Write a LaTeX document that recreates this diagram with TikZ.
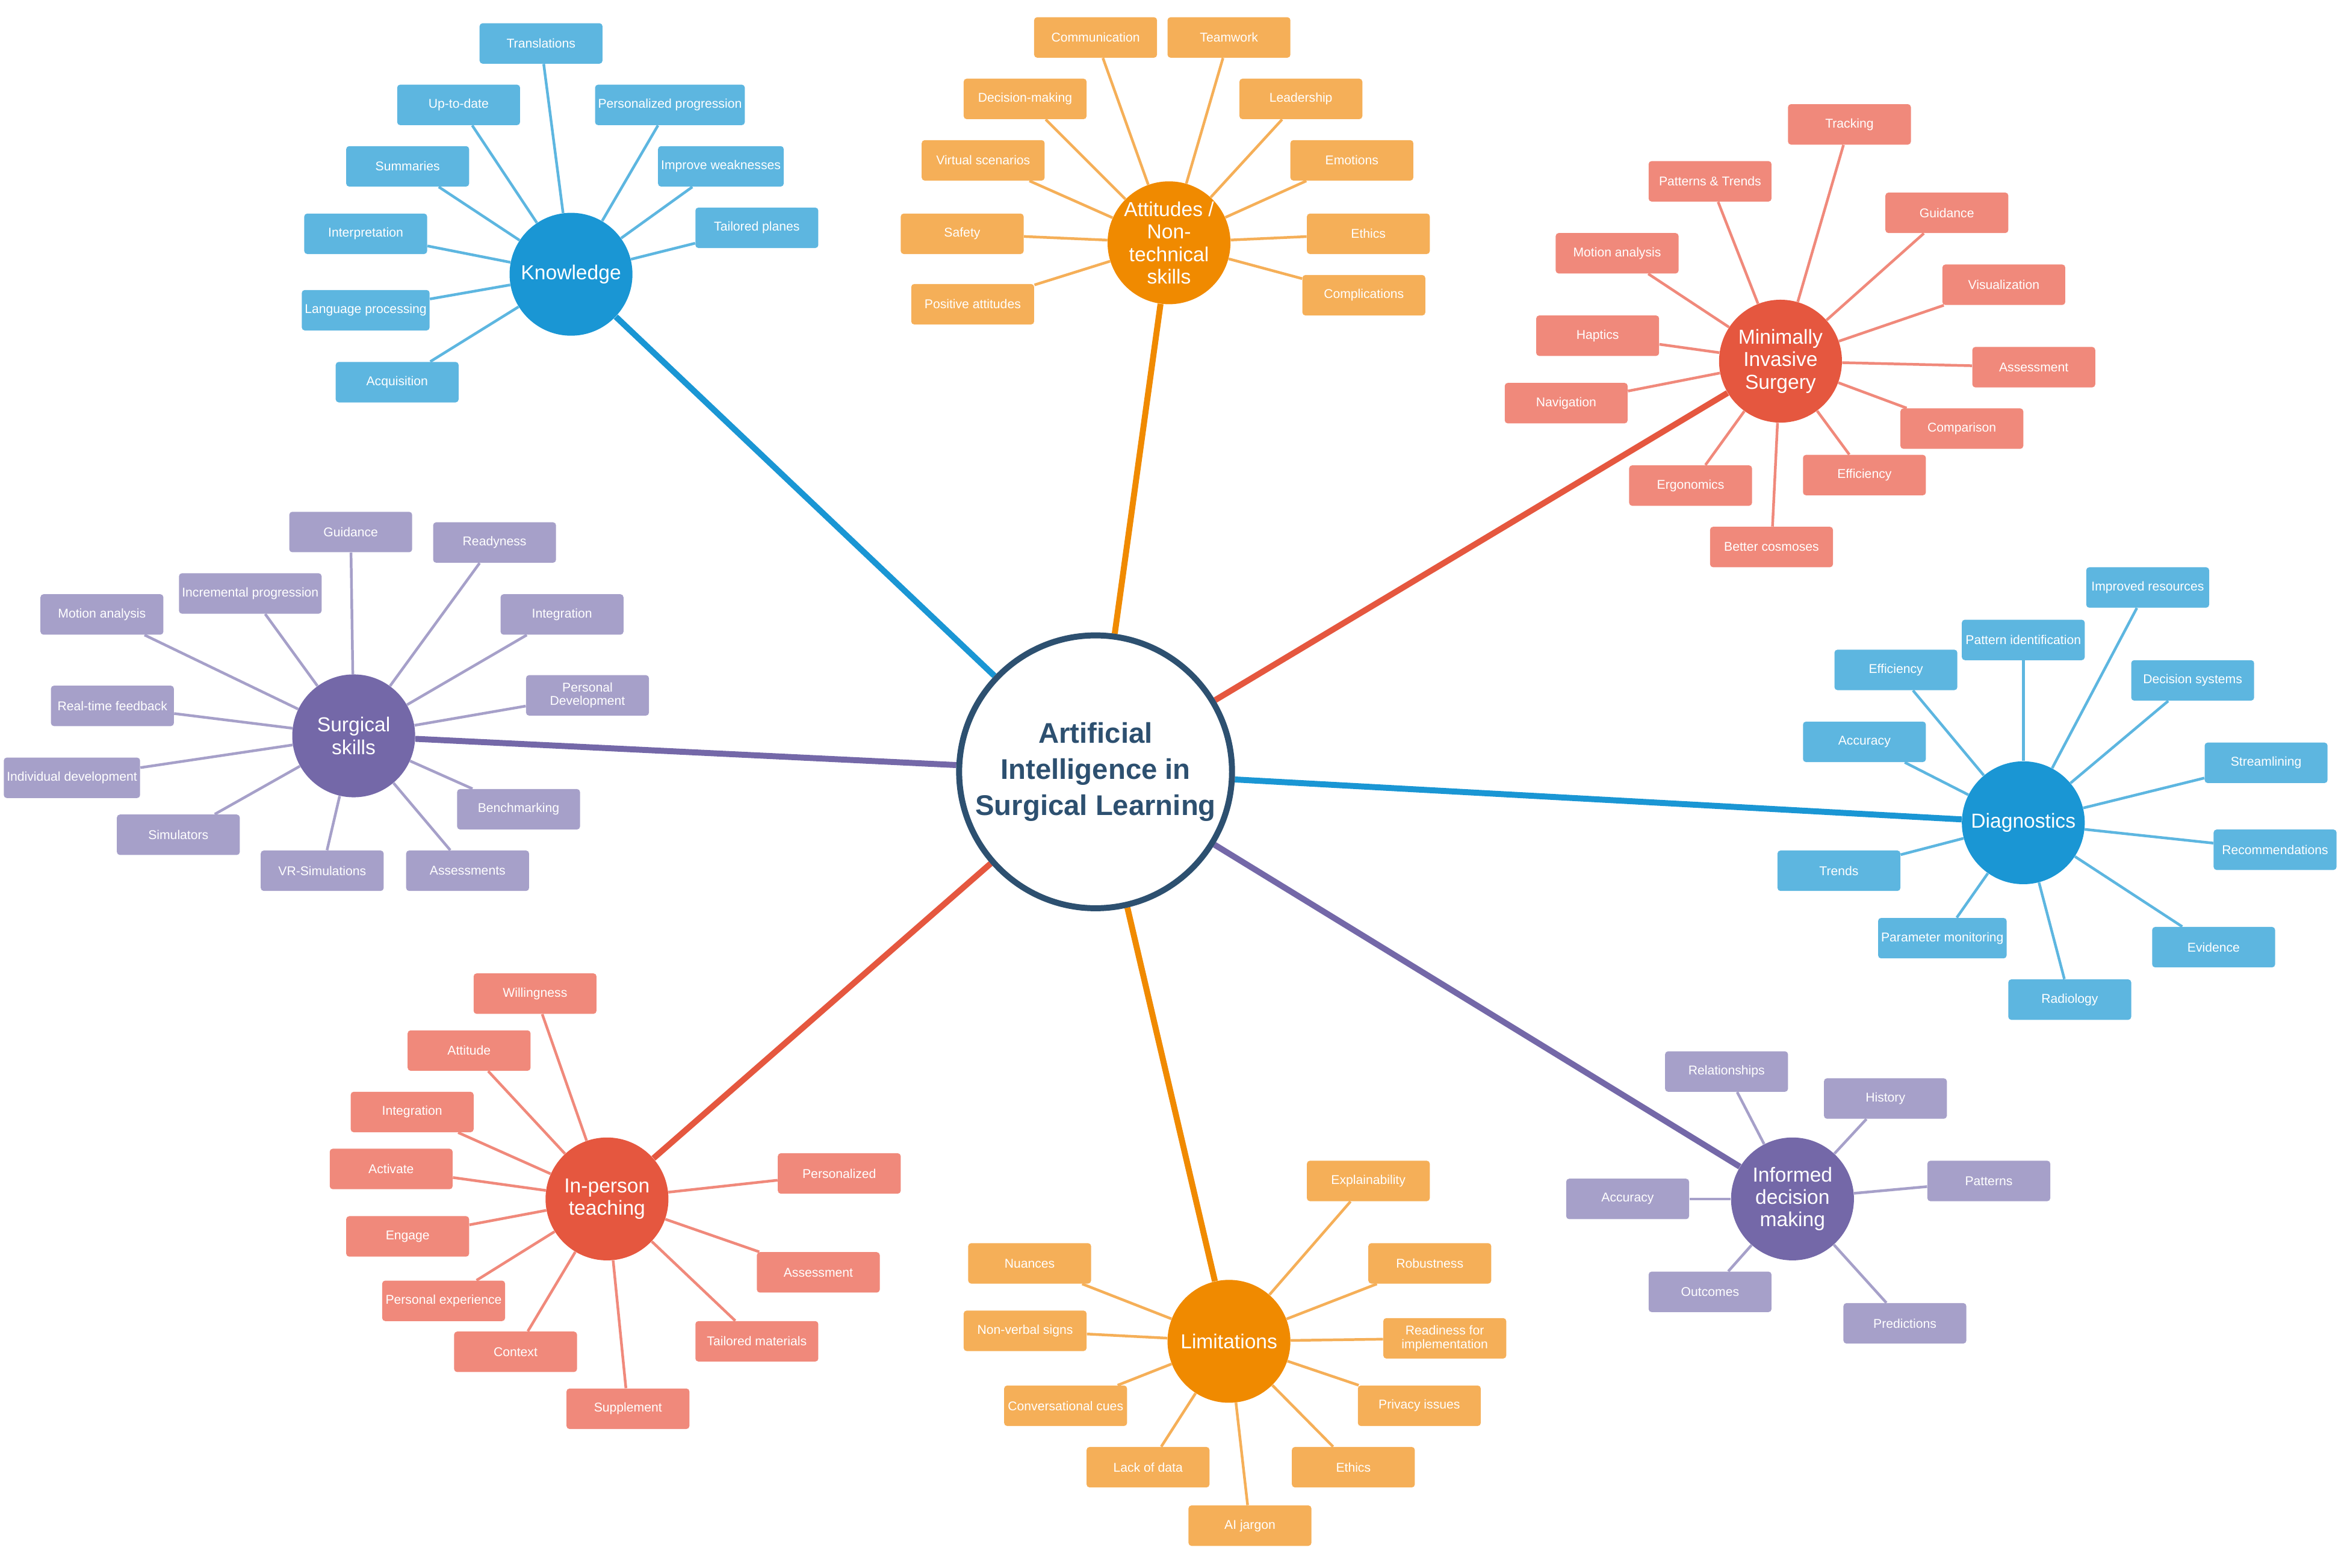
\documentclass[tikz,border=0pt]{standalone}
\usepackage{fontspec}
\setmainfont{Liberation Sans}
\usetikzlibrary{backgrounds}
\definecolor{cB}{HTML}{1A96D4}\definecolor{lB}{HTML}{5DB6E0}
\definecolor{cO}{HTML}{F08A00}\definecolor{lO}{HTML}{F5AF58}
\definecolor{cR}{HTML}{E5573F}\definecolor{lR}{HTML}{F0897B}
\definecolor{cP}{HTML}{7468A8}\definecolor{lP}{HTML}{A6A0C9}
\definecolor{cC}{HTML}{2D5070}
\tikzset{
 box/.style={rounded corners=2pt,fill=#1,text=white,minimum width=82pt,minimum height=27pt,inner sep=2pt,font=\fontsize{8.5}{9}\selectfont,align=center},
 hub/.style={circle,fill=#1,text=white,minimum size=82pt,inner sep=0pt,font=\fontsize{13.5}{15}\selectfont,align=center},
 spoke/.style={draw=#1,line width=1.8pt},
 main/.style={draw=#1,line width=4pt}
}
\newcommand{\kids}[3]{\foreach \n/\x/\y/\t in {#3}{\node[box=l#1] (#2\n) at (\x,\y) {\t};
 \begin{pgfonlayer}{background}\draw[spoke=l#1] (#2) -- (#2\n);\end{pgfonlayer}}}
\begin{document}
\begin{tikzpicture}[x=1pt,y=-1pt]
\useasboundingbox (0,0) rectangle (1568,1046);
\node[circle,draw=cC,line width=4pt,fill=white,minimum size=182pt,align=center,text=cC,font=\fontsize{19}{24}\selectfont\bfseries] (C) at (731,515) {Artificial\\Intelligence in\\Surgical Learning};
\node[hub=cB] (K) at (381,183) {Knowledge};
\node[hub=cO] (A) at (780,162) {Attitudes /\\Non-\\technical\\skills};
\node[hub=cR] (M) at (1188,241) {Minimally\\Invasive\\Surgery};
\node[hub=cP] (S) at (236,491) {Surgical\\skills};
\node[hub=cB] (D) at (1350,549) {Diagnostics};
\node[hub=cR] (I) at (405,800) {In-person\\teaching};
\node[hub=cO] (L) at (820,895) {Limitations};
\node[hub=cP] (F) at (1196,800) {Informed\\decision\\making};
\begin{pgfonlayer}{background}
\draw[main=cB] (C)--(K); \draw[main=cO] (C)--(A); \draw[main=cR] (C)--(M);
\draw[main=cP] (C)--(S); \draw[main=cB] (C)--(D); \draw[main=cR] (C)--(I);
\draw[main=cO] (C)--(L); \draw[main=cP] (C)--(F);
\end{pgfonlayer}
\kids{B}{K}{1/361/29/Translations,2/306/70/Up-to-date,3/447/70/Personalized progression,4/272/111/Summaries,5/481/111/Improve weaknesses,6/244/156/Interpretation,7/505/152/Tailored planes,8/244/207/Language processing,9/265/255/Acquisition}
\kids{O}{A}{1/731/25/Communication,2/820/25/Teamwork,3/684/66/Decision-making,4/868/66/Leadership,5/656/107/Virtual scenarios,6/902/107/Emotions,7/642/156/Safety,8/913/156/Ethics,9/649/203/Positive attitudes,10/910/197/Complications}
\kids{R}{M}{1/1234/83/Tracking,2/1141/121/Patterns \& Trends,3/1299/142/Guidance,4/1079/169/Motion analysis,5/1337/190/Visualization,6/1066/224/Haptics,7/1357/245/Assessment,8/1045/269/Navigation,9/1309/286/Comparison,10/1128/324/Ergonomics,11/1244/317/Efficiency,12/1182/365/Better cosmoses}
\kids{P}{S}{1/234/355/Guidance,2/330/362/Readyness,3/167/396/Incremental progression,4/68/410/Motion analysis,5/375/410/Integration,6/392/464/{Personal\\Development},7/75/471/Real-time feedback,8/48/519/Individual development,9/346/540/Benchmarking,10/119/557/Simulators,11/215/581/VR-Simulations,12/312/581/Assessments}
\kids{B}{D}{1/1433/392/Improved resources,2/1350/427/Pattern identification,3/1265/447/Efficiency,4/1463/454/Decision systems,5/1244/495/Accuracy,6/1512/509/Streamlining,7/1518/567/Recommendations,8/1227/581/Trends,9/1296/626/Parameter monitoring,10/1477/632/Evidence,11/1381/667/Radiology}
\kids{R}{I}{1/357/663/Willingness,2/313/701/Attitude,3/275/742/Integration,4/261/780/Activate,5/560/783/Personalized,6/272/825/Engage,7/546/849/Assessment,8/296/868/Personal experience,9/505/895/Tailored materials,10/344/902/Context,11/419/940/Supplement}
\kids{O}{L}{1/913/788/Explainability,2/687/843/Nuances,3/954/843/Robustness,4/684/888/Non-verbal signs,5/964/893/{Readiness for\\implementation},6/711/938/Conversational cues,7/947/938/Privacy issues,8/766/979/Lack of data,9/903/979/Ethics,10/834/1018/AI jargon}
\kids{P}{F}{1/1152/715/Relationships,2/1258/733/History,3/1086/800/Accuracy,4/1327/788/Patterns,5/1141/862/Outcomes,6/1271/883/Predictions}
\end{tikzpicture}
\end{document}
